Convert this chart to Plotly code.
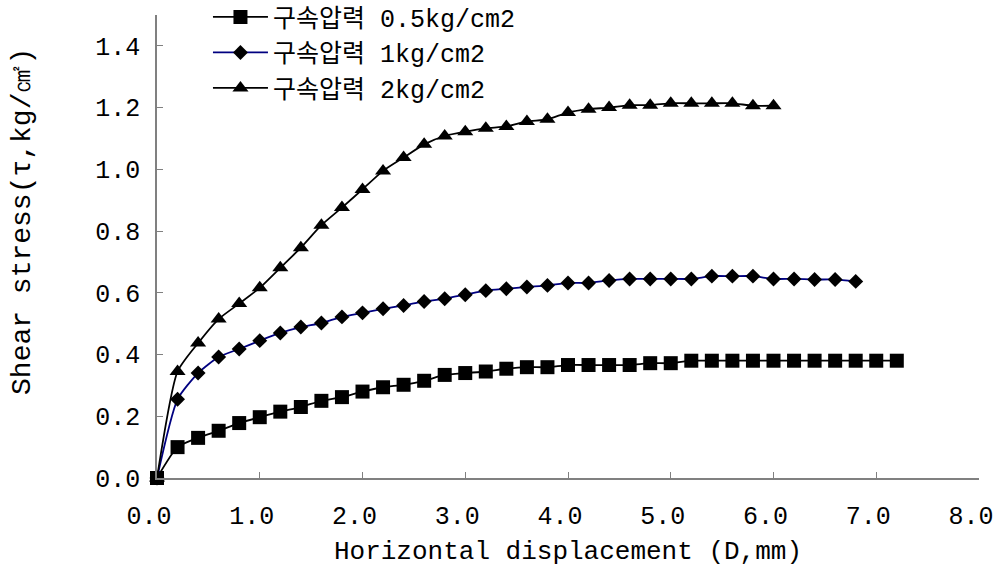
import plotly.graph_objects as go

# ---- data ----
x_05 = [0.0, 0.2, 0.4, 0.6, 0.8, 1.0, 1.2, 1.4, 1.6, 1.8, 2.0, 2.2, 2.4, 2.6, 2.8, 3.0, 3.2, 3.4, 3.6,
        3.8, 4.0, 4.2, 4.4, 4.6, 4.8, 5.0, 5.2, 5.4, 5.6, 5.8, 6.0, 6.2, 6.4, 6.6, 6.8, 7.0, 7.2]
y_05 = [0.0, 0.100, 0.130, 0.153, 0.178, 0.197, 0.215, 0.230, 0.250, 0.262, 0.280, 0.294, 0.302, 0.315,
        0.334, 0.340, 0.345, 0.354, 0.359, 0.359, 0.366, 0.366, 0.366, 0.366, 0.372, 0.372, 0.380,
        0.380, 0.380, 0.380, 0.380, 0.380, 0.380, 0.380, 0.380, 0.380, 0.380]

x_1 = [0.0, 0.2, 0.4, 0.6, 0.8, 1.0, 1.2, 1.4, 1.6, 1.8, 2.0, 2.2, 2.4, 2.6, 2.8, 3.0, 3.2, 3.4, 3.6,
       3.8, 4.0, 4.2, 4.4, 4.6, 4.8, 5.0, 5.2, 5.4, 5.6, 5.8, 6.0, 6.2, 6.4, 6.6, 6.8]
y_1 = [0.0, 0.255, 0.340, 0.392, 0.418, 0.445, 0.470, 0.489, 0.502, 0.522, 0.535, 0.548, 0.559, 0.572,
       0.581, 0.594, 0.607, 0.613, 0.619, 0.624, 0.632, 0.632, 0.640, 0.645, 0.645, 0.645, 0.645,
       0.654, 0.654, 0.654, 0.645, 0.645, 0.643, 0.643, 0.637]

x_2 = [0.0, 0.2, 0.4, 0.6, 0.8, 1.0, 1.2, 1.4, 1.6, 1.8, 2.0, 2.2, 2.4, 2.6, 2.8, 3.0, 3.2, 3.4, 3.6,
       3.8, 4.0, 4.2, 4.4, 4.6, 4.8, 5.0, 5.2, 5.4, 5.6, 5.8, 6.0]
y_2 = [0.0, 0.345, 0.437, 0.515, 0.565, 0.616, 0.681, 0.746, 0.819, 0.876, 0.935, 0.995, 1.038, 1.081,
       1.108, 1.122, 1.133, 1.139, 1.155, 1.162, 1.184, 1.195, 1.200, 1.208, 1.208, 1.214, 1.214,
       1.214, 1.214, 1.206, 1.206]

names = ["구속압력 0.5kg/cm2", "구속압력 1kg/cm2", "구속압력 2kg/cm2"]
x_ticks = [0, 1, 2, 3, 4, 5, 6, 7, 8]
y_ticks = [0.0, 0.2, 0.4, 0.6, 0.8, 1.0, 1.2, 1.4]
x_title = "Horizontal displacement (D,mm)"
y_title = "Shear stress(τ,kg/㎠)"

MONO = "Liberation Mono, DejaVu Sans Mono, monospace"
LEG = "Liberation Mono, Noto Sans CJK KR, monospace"

fig = go.Figure()
series = [
    (x_05, y_05, names[0], "square", 14, "black"),
    (x_1, y_1, names[1], "diamond", 11.5, "#000080"),
    (x_2, y_2, names[2], "triangle-up", 14, "black"),
]
for xs, ys, nm, sym, sz, lc in series:
    fig.add_trace(go.Scatter(
        x=xs, y=ys, name=nm, mode="lines+markers",
        line=dict(color=lc, width=1.8, shape="spline", smoothing=0.6),
        marker=dict(symbol=sym, size=sz, color="black", line=dict(width=0)),
        cliponaxis=False,
    ))

fig.update_layout(
    width=997, height=568,
    margin=dict(l=157, r=18, t=15, b=90, autoexpand=False),
    paper_bgcolor="white", plot_bgcolor="white",
    showlegend=True,
    legend=dict(
        x=0.062, y=1.045, xanchor="left", yanchor="top",
        font=dict(family=LEG, size=25, color="black"),
        bgcolor="rgba(0,0,0,0)", itemwidth=55, tracegroupgap=0,
    ),
    xaxis=dict(
        range=[0, 8], tickvals=x_ticks, tickformat=".1f",
        showgrid=False, zeroline=False, automargin=False,
        showline=True, linecolor="#808080", linewidth=1.5,
        ticks="inside", ticklen=6, tickcolor="#808080",
        tickfont=dict(family=MONO, size=25, color="black"),
        ticklabelstandoff=14, ticklabeloverflow="allow", ticklabelshift=-8,
        title=dict(text=x_title, font=dict(family=MONO, size=26, color="black"), standoff=10),
    ),
    yaxis=dict(
        range=[0, 1.5], tickvals=y_ticks, tickformat=".1f",
        showgrid=False, zeroline=False, automargin=False,
        showline=True, linecolor="#808080", linewidth=1.5,
        ticks="inside", ticklen=6, tickcolor="#808080",
        tickfont=dict(family=MONO, size=25, color="black"),
        ticklabelstandoff=10,
    ),
    annotations=[dict(
        text=y_title, textangle=-90, showarrow=False,
        xref="paper", yref="paper", x=-0.163, y=0.553,
        xanchor="center", yanchor="middle",
        font=dict(family=MONO, size=28, color="black"),
    )],
)

fig.write_html("out.html")
